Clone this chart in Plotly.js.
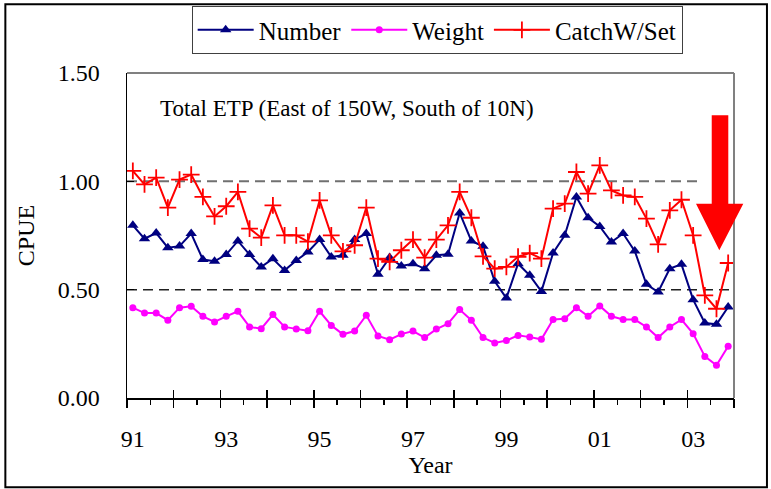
<!DOCTYPE html>
<html><head><meta charset="utf-8">
<script src="https://cdn.plot.ly/plotly-3.0.1.min.js"></script>
<style>html,body{margin:0;padding:0;background:#fff}#chart{width:771px;height:489px}</style>
</head><body><div id="chart"></div>
<script>
const years = ['91','92','93','94','95','96','97','98','99','00','01','02','03'];
const quarters = [];
years.forEach(y => ['Q1','Q2','Q3','Q4'].forEach(q => quarters.push(y + q)));
const tickYears = ['91','93','95','97','99','01','03'];

const number = [0.797,0.735,0.761,0.694,0.701,0.759,0.639,0.631,0.662,0.725,0.662,0.605,0.643,0.589,0.635,0.674,
  0.731,0.651,0.659,0.731,0.759,0.571,0.648,0.609,0.620,0.597,0.659,0.663,0.854,0.725,0.700,0.539,
  0.461,0.620,0.566,0.492,0.669,0.751,0.928,0.832,0.792,0.720,0.759,0.678,0.525,0.489,0.597,0.617,
  0.454,0.346,0.340,0.420];
const weight = [0.417,0.392,0.392,0.359,0.417,0.423,0.377,0.351,0.377,0.400,0.328,0.320,0.385,0.328,0.319,0.310,
  0.400,0.335,0.294,0.309,0.382,0.286,0.269,0.295,0.309,0.279,0.318,0.343,0.408,0.359,0.279,0.254,
  0.265,0.289,0.281,0.271,0.362,0.366,0.417,0.377,0.425,0.377,0.362,0.362,0.328,0.279,0.328,0.362,
  0.297,0.192,0.151,0.239];
const catchWSet = [1.048,0.986,1.017,0.879,1.008,1.031,0.928,0.838,0.885,0.951,0.782,0.740,0.889,0.751,0.751,0.722,
  0.912,0.751,0.677,0.705,0.879,0.643,0.628,0.682,0.731,0.648,0.731,0.797,0.951,0.832,0.654,0.597,
  0.605,0.652,0.669,0.643,0.874,0.897,1.043,0.943,1.074,0.958,0.935,0.928,0.828,0.709,0.866,0.915,
  0.751,0.474,0.412,0.623];

const xi = quarters.map((q, i) => i);
const labelPos = tickYears.map(y => quarters.indexOf(y + 'Q1'));
const majorTicks = years.map((y, k) => quarters.indexOf(y + 'Q1') - 0.5).concat([quarters.length - 0.5]);
const minorTicks = years.map((y, k) => quarters.indexOf(y + 'Q3') - 0.5);

const FONT = "'Liberation Serif', 'Times New Roman', serif";

const traces = [
  {x: xi, y: number, name: 'Number', type: 'scatter', mode: 'lines+markers',
   line: {color: '#000080', width: 2}, marker: {symbol: 'triangle-up', size: 10, color: '#000080'}},
  {x: xi, y: weight, name: 'Weight', type: 'scatter', mode: 'lines+markers',
   line: {color: '#FF00FF', width: 2}, marker: {symbol: 'circle', size: 7, color: '#FF00FF'}},
  {x: xi, y: catchWSet, name: 'CatchW/Set', type: 'scatter', mode: 'lines+markers',
   line: {color: '#FF0000', width: 2}, marker: {symbol: 'cross-thin', size: 12, line: {color: '#FF0000', width: 1.8}}},
  {x: [0], y: [0], xaxis: 'x2', yaxis: 'y', showlegend: false, hoverinfo: 'skip', mode: 'markers', marker: {opacity: 0}},
  {x: [0], y: [0], xaxis: 'x3', yaxis: 'y', showlegend: false, hoverinfo: 'skip', mode: 'markers', marker: {opacity: 0}},
  {x: [0], y: [0], xaxis: 'x4', yaxis: 'y', showlegend: false, hoverinfo: 'skip', mode: 'markers', marker: {opacity: 0}}
];

const xr = [-0.5, quarters.length - 0.5];
const overlayAx = (vals, dir, len) => ({
  overlaying: 'x', anchor: 'y', range: xr, tickmode: 'array', tickvals: vals, ticks: dir, ticklen: len,
  tickwidth: 1.5, tickcolor: '#000', showticklabels: false, showline: false, showgrid: false, zeroline: false
});

const layout = {
  width: 771, height: 489,
  margin: {l: 127, r: 37, t: 73, b: 91, pad: 0, autoexpand: false},
  paper_bgcolor: '#fff', plot_bgcolor: '#fff',
  font: {family: FONT, size: 24, color: '#000'},
  showlegend: true,
  legend: {orientation: 'h', x: 0.511, xanchor: 'center', y: 1.206, yanchor: 'top',
    bgcolor: '#fff', bordercolor: '#404040', borderwidth: 1, font: {family: FONT, size: 25},
    itemwidth: 56, traceorder: 'normal'},
  xaxis: {range: xr, tickmode: 'array', tickvals: labelPos, ticktext: tickYears, ticks: '',
    showline: true, linecolor: '#000', linewidth: 1.5, showgrid: false, zeroline: false,
    tickfont: {family: FONT, size: 24}, ticklabelstandoff: 19, automargin: false,
    title: {text: 'Year', font: {family: FONT, size: 24}, standoff: 0}},
  xaxis2: overlayAx(majorTicks, 'outside', 9),
  xaxis3: overlayAx(majorTicks, 'inside', 8),
  xaxis4: overlayAx(minorTicks, 'outside', 6),
  yaxis: {range: [0, 1.5], tickmode: 'array', tickvals: [0, 0.5, 1.0, 1.5], tickformat: '.2f',
    ticks: 'inside', ticklen: 7, tickwidth: 1.5, tickcolor: '#000',
    showline: true, linecolor: '#000', linewidth: 1.5, showgrid: false, zeroline: false,
    tickfont: {family: FONT, size: 24}, ticklabelstandoff: 21, automargin: false,
    title: {text: 'CPUE', font: {family: FONT, size: 24}, standoff: 16}},
  annotations: [
    {text: 'Total ETP (East of 150W, South of 10N)', xref: 'paper', yref: 'paper',
     x: 0.0515, xanchor: 'left', y: 0.892, yanchor: 'middle', showarrow: false,
     font: {family: FONT, size: 23, color: '#000'}}
  ],
  shapes: [
    {type: 'line', xref: 'paper', yref: 'y', x0: 0, x1: 0.946, y0: 1.0, y1: 1.0, layer: 'below',
     line: {color: '#707070', width: 2, dash: '10px,6px'}},
    {type: 'line', xref: 'paper', yref: 'y', x0: 0, x1: 1, y0: 0.5, y1: 0.5, layer: 'below',
     line: {color: '#202020', width: 1.5, dash: '10px,6px'}},
    {type: 'line', xref: 'paper', yref: 'paper', x0: 0, x1: 1, y0: 1, y1: 1,
     line: {color: '#808080', width: 2}},
    {type: 'line', xref: 'paper', yref: 'paper', x0: 1, x1: 1, y0: 0, y1: 1,
     line: {color: '#808080', width: 2}},
    {type: 'rect', xref: 'paper', yref: 'paper', x0: -0.2004, x1: 1.0543, y0: -0.2748, y1: 1.2114,
     line: {color: '#000', width: 2}, fillcolor: 'rgba(0,0,0,0)'},
    {type: 'path', xref: 'paper', yref: 'paper',
     path: 'M 0.9633 0.8698 L 0.9906 0.8698 L 0.9906 0.598 L 1.0153 0.598 L 0.9758 0.4545 L 0.9374 0.598 L 0.9633 0.598 Z',
     fillcolor: '#FF0000', line: {color: '#FF0000', width: 0}}
  ]
};

Plotly.newPlot('chart', traces, layout, {displayModeBar: false, staticPlot: true});
</script>
</body></html>
